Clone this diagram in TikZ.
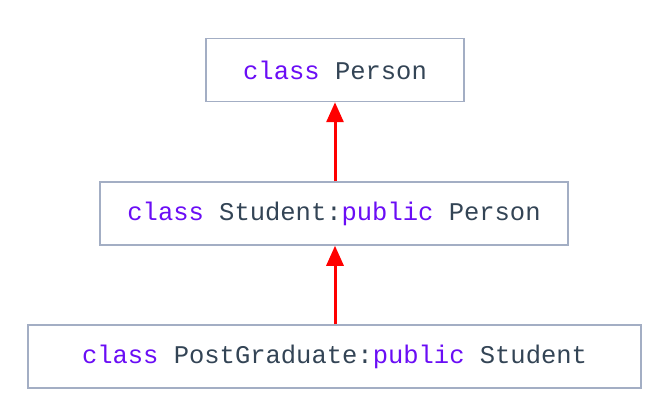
\documentclass[tikz,border=0pt]{standalone}
\usepackage{fontspec}
\setmonofont{Liberation Mono}
\usetikzlibrary{positioning, arrows.meta}

\definecolor{kwcol}{HTML}{6A0DF5}
\definecolor{txtcol}{HTML}{334455}
\definecolor{boxcol}{HTML}{A3AEC4}
\newcommand{\kw}[1]{\textcolor{kwcol}{#1}}

\begin{document}
\begin{tikzpicture}[x=1pt, y=1pt,
    classbox/.style={rectangle, draw=boxcol, line width=1.5pt, inner sep=0pt, minimum height=63pt,
      text=txtcol, font=\ttfamily\fontsize{25.5}{30}\selectfont},
    inherit/.style={draw=red, line width=3pt, -{Triangle[width=17pt, length=20pt]}}]
  \useasboundingbox (0, 0) rectangle (665, -412);

  \node[classbox, minimum width=258pt] (person) at (335, -70) {\kw{class} Person};
  \node[classbox, minimum width=468pt] (student) at (334, -213.5) {\kw{class} Student:\kw{public} Person};
  \node[classbox, minimum width=613pt] (postgrad) at (334.5, -356.5) {\kw{class} PostGraduate:\kw{public} Student};

  \path (student.north -| person.south) edge[inherit] (person.south);
  \path (postgrad.north -| person.south) edge[inherit] (student.south -| person.south);
\end{tikzpicture}
\end{document}
